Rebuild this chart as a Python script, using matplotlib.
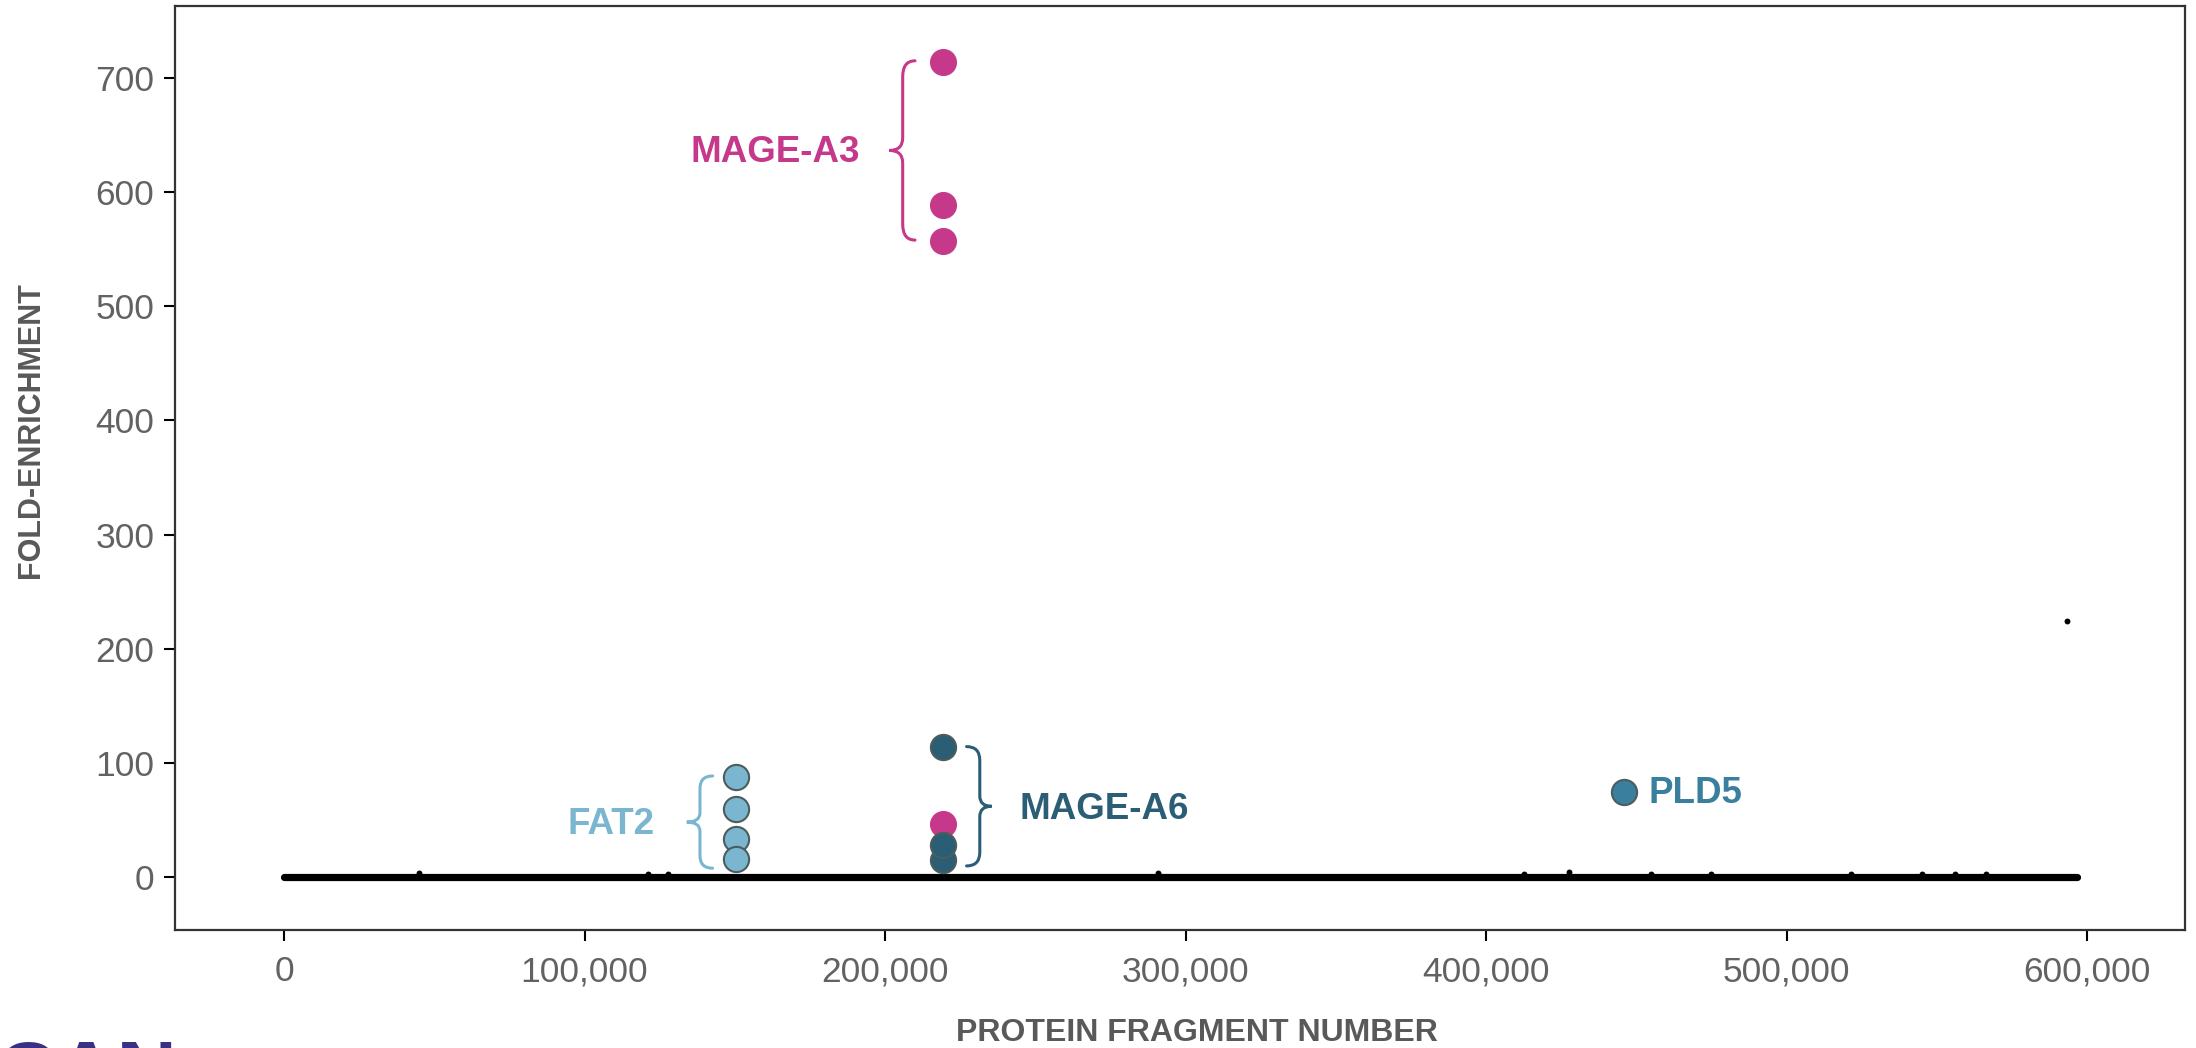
import matplotlib
matplotlib.use("Agg")
import matplotlib.pyplot as plt
from matplotlib.path import Path
from matplotlib.patches import PathPatch
from matplotlib.ticker import FuncFormatter
import numpy as np

plt.rcParams['font.family'] = ['Liberation Sans', 'DejaVu Sans']

# ---- highlighted fragments (fragment number, fold-enrichment) ----
mage_a3_x = [219400, 219400, 219400, 219400]
mage_a3_y = [714, 589, 557.5, 46.4]

mage_a6_x = [219400, 219400, 219400]
mage_a6_y = [113.8, 15.2, 28.3]

fat2_x = [150300, 150300, 150300, 150300]
fat2_y = [88.1, 59.5, 33.3, 16.0]

pld5_x = [445700]
pld5_y = [74.3]

# ---- remaining fragments: a near-zero bulk plus a few small bumps ----
bg_fragment = [0, 45000, 121000, 127800, 290800, 412600, 427600, 454900,
               474800, 521400, 545000, 556000, 566300, 593400, 596500]
bg_fold = [0, 4, 2.5, 2.5, 4, 3, 5, 2.5, 2.5, 2.5, 2.5, 2.5, 2.5, 224, 0]

x_ticks = [0, 100000, 200000, 300000, 400000, 500000, 600000]
y_ticks = [0, 100, 200, 300, 400, 500, 600, 700]

MAGENTA = '#C6388A'
LIGHT_BLUE = '#7AB6D0'
DARK_TEAL = '#2B5E75'
MID_TEAL = '#3A7F9E'
EDGE = '#4B5D5C'
TICK_GREY = '#626262'
LABEL_GREY = '#595959'

W, H = 2196, 1048
fig = plt.figure(figsize=(W / 100, H / 100), dpi=100)
ax = fig.add_axes([175 / W, (H - 930) / H, (2185 - 175) / W, (930 - 6) / H])
ax.set_xlim(-36270, 632500)
ax.set_ylim(-46.2, 763)

# bulk of fragments sitting on zero
ax.plot([min(bg_fragment), max(bg_fragment)], [0, 0], color='black', lw=5.2,
        solid_capstyle='round', zorder=2)
ax.scatter(bg_fragment, bg_fold, s=18, color='black', lw=0, zorder=2)

# highlighted fragments
ax.scatter(fat2_x[:3], fat2_y[:3], s=330, color=LIGHT_BLUE, edgecolors=EDGE, linewidths=1.5, zorder=3)
ax.scatter(fat2_x[3:], fat2_y[3:], s=330, color=LIGHT_BLUE, edgecolors=EDGE, linewidths=1.5, zorder=3)
ax.scatter(mage_a3_x, mage_a3_y, s=380, color=MAGENTA, lw=0, zorder=3)
ax.scatter(mage_a6_x, mage_a6_y, s=330, color=DARK_TEAL, edgecolors=EDGE, linewidths=1.5, zorder=4)
ax.scatter(pld5_x, pld5_y, s=330, color=MID_TEAL, edgecolors=EDGE, linewidths=1.5, zorder=3)


def brace(x_end, x_mid, x_tip, y_top, y_bot, r_end, r_tip, color):
    y_mid = (y_top + y_bot) / 2
    verts = [(x_end, y_top), (x_mid, y_top), (x_mid, y_top - r_end),
             (x_mid, y_mid + r_tip),
             (x_mid, y_mid), (x_tip, y_mid),
             (x_mid, y_mid), (x_mid, y_mid - r_tip),
             (x_mid, y_bot + r_end),
             (x_mid, y_bot), (x_end, y_bot)]
    codes = [Path.MOVETO, Path.CURVE3, Path.CURVE3, Path.LINETO,
             Path.CURVE3, Path.CURVE3, Path.CURVE3, Path.CURVE3,
             Path.LINETO, Path.CURVE3, Path.CURVE3]
    ax.add_patch(PathPatch(Path(verts, codes), fill=False, edgecolor=color,
                           lw=2.2, capstyle='round', zorder=3))


brace(209950, 205850, 201400, 715, 558, 14, 11, MAGENTA)
brace(227100, 231500, 235400, 114.4, 9.9, 12, 9, DARK_TEAL)
brace(142600, 138400, 134000, 88.7, 7.9, 11, 8, LIGHT_BLUE)

lab = dict(fontsize=26.5, fontweight='bold', va='center', zorder=5)
ax.text(191650, 635, 'MAGE-A3', color=MAGENTA, ha='right', **lab)
ax.text(244600, 59, 'MAGE-A6', color=DARK_TEAL, ha='left', **lab)
ax.text(123400, 46, 'FAT2', color=LIGHT_BLUE, ha='right', **lab)
ax.text(454100, 73.5, 'PLD5', color=MID_TEAL, ha='left', **lab)

ax.set_xticks(x_ticks)
ax.set_yticks(y_ticks)
ax.xaxis.set_major_formatter(FuncFormatter(lambda v, p: f'{int(v):,}'))
ax.tick_params(axis='both', length=8, width=1.5, color='black',
               labelsize=25.5, labelcolor=TICK_GREY)
ax.tick_params(axis='x', pad=10)
ax.tick_params(axis='y', pad=7)
for s in ax.spines.values():
    s.set_color('#333333')
    s.set_linewidth(1.6)

fig.text(31 / W, 1 - 430 / H, 'FOLD-ENRICHMENT', rotation=90, ha='center', va='center',
         fontsize=22, fontweight='bold', color=LABEL_GREY)
fig.text(1197 / W, 1 - 1033 / H, 'PROTEIN FRAGMENT NUMBER', ha='center', va='center',
         fontsize=23, fontweight='bold', color=LABEL_GREY)

# logo lettering along the bottom edge
fig.text(-3 / W, -0.05, 'CAN', ha='left', va='baseline', fontsize=60,
         fontweight='bold', color='#3B3183')

fig.savefig('out.png', dpi=100)
